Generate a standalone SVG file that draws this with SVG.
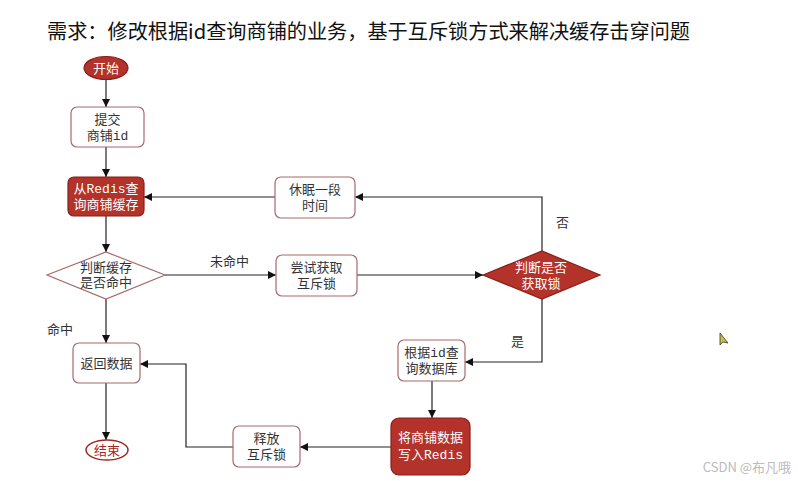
<svg xmlns="http://www.w3.org/2000/svg" width="798" height="481" viewBox="0 0 798 481">
<defs>
<marker id="arr" viewBox="0 0 10 10" refX="10" refY="5" markerWidth="8" markerHeight="8" markerUnits="userSpaceOnUse" orient="auto">
<path d="M0,0 L10,5 L0,10 z" fill="#111"/>
</marker>
<style>
.t{font-family:"Liberation Mono","Noto Sans CJK SC",monospace;font-size:13px;text-anchor:middle;fill:#333}
.w{fill:#fff}
.wb{fill:#fff;stroke:#a86a6a;stroke-width:1.2}
.rb{fill:#b3322a;stroke:#8a1f18;stroke-width:1.2}
.ln{fill:none;stroke:#222;stroke-width:1.2;marker-end:url(#arr)}
.lb{font-family:"Liberation Mono","Noto Sans CJK SC",monospace;font-size:13px;fill:#333}
</style>
</defs>
<rect width="798" height="481" fill="#fff"/>
<text x="47" y="39" font-family="'Noto Sans CJK SC',sans-serif" font-size="20" fill="#111" textLength="643" lengthAdjust="spacingAndGlyphs">需求：修改根据id查询商铺的业务，基于互斥锁方式来解决缓存击穿问题</text>

<g id="connectors">
<path class="ln" d="M106,79 V107"/>
<path class="ln" d="M106,147 V177"/>
<path class="ln" d="M106,216 V252"/>
<path class="ln" d="M165,275 H276"/>
<path class="ln" d="M357,275 H483"/>
<path class="ln" d="M542,251 V197 H355"/>
<path class="ln" d="M275,197 H144"/>
<path class="ln" d="M542,299 V362 H465"/>
<path class="ln" d="M432,381 V418"/>
<path class="ln" d="M391,447 H300"/>
<path class="ln" d="M233,447 H186 V364 H140"/>
<path class="ln" d="M106,299 V343"/>
<path class="ln" d="M106,383 V440"/>
<text class="lb" x="210" y="266">未命中</text>
<text class="lb" x="556" y="227">否</text>
<text class="lb" x="511" y="346">是</text>
<text class="lb" x="47" y="334">命中</text>
</g>

<g id="start">
<ellipse cx="106" cy="68" rx="22" ry="11.5" class="rb"/>
<text class="t w" x="106" y="72.5">开始</text>
</g>
<g id="submit">
<rect x="71" y="107" width="73" height="40" rx="6" class="wb"/>
<text class="t" x="107.5" y="124">提交</text>
<text class="t" x="107.5" y="140">商铺id</text>
</g>
<g id="queryRedis">
<rect x="68" y="177" width="76" height="39" rx="6" class="rb"/>
<text class="t w" x="106" y="193">从Redis查</text>
<text class="t w" x="106" y="209">询商铺缓存</text>
</g>
<g id="hitCheck">
<polygon points="47,275 106,252 165,275 106,299" class="wb"/>
<text class="t" x="106" y="272">判断缓存</text>
<text class="t" x="106" y="287">是否命中</text>
</g>
<g id="tryLock">
<rect x="276" y="255" width="81" height="41" rx="6" class="wb"/>
<text class="t" x="316.5" y="272">尝试获取</text>
<text class="t" x="316.5" y="288">互斥锁</text>
</g>
<g id="sleep">
<rect x="275" y="177" width="80" height="41" rx="6" class="wb"/>
<text class="t" x="315" y="194">休眠一段</text>
<text class="t" x="315" y="210">时间</text>
</g>
<g id="lockCheck">
<polygon points="483,275 542,251 600,275 542,299" class="rb"/>
<text class="t w" x="541" y="272">判断是否</text>
<text class="t w" x="541" y="288">获取锁</text>
</g>
<g id="queryDb">
<rect x="398" y="340" width="67" height="41" rx="6" class="wb"/>
<text class="t" x="431.5" y="357">根据id查</text>
<text class="t" x="431.5" y="373">询数据库</text>
</g>
<g id="writeRedis">
<rect x="391" y="418" width="79" height="57" rx="8" class="rb"/>
<text class="t w" x="430.5" y="442">将商铺数据</text>
<text class="t w" x="430.5" y="459">写入Redis</text>
</g>
<g id="unlock">
<rect x="233" y="426" width="67" height="41" rx="6" class="wb"/>
<text class="t" x="266.5" y="443">释放</text>
<text class="t" x="266.5" y="459">互斥锁</text>
</g>
<g id="returnData">
<rect x="73" y="343" width="67" height="40" rx="6" class="wb"/>
<text class="t" x="106.5" y="367.5">返回数据</text>
</g>
<g id="end">
<ellipse cx="107" cy="450" rx="21" ry="10" fill="#fff" stroke="#a02820" stroke-width="1.5"/>
<text class="t" x="107" y="454.5" style="fill:#a02820">结束</text>
</g>

<polygon points="720,333 720,345 723,342 728,343" fill="#c9c23a" stroke="#333" stroke-width="0.8"/>
<text x="791" y="472" text-anchor="end" font-family="'Noto Sans CJK SC',sans-serif" font-size="13" fill="#bbb">CSDN @布凡哦</text>
</svg>
